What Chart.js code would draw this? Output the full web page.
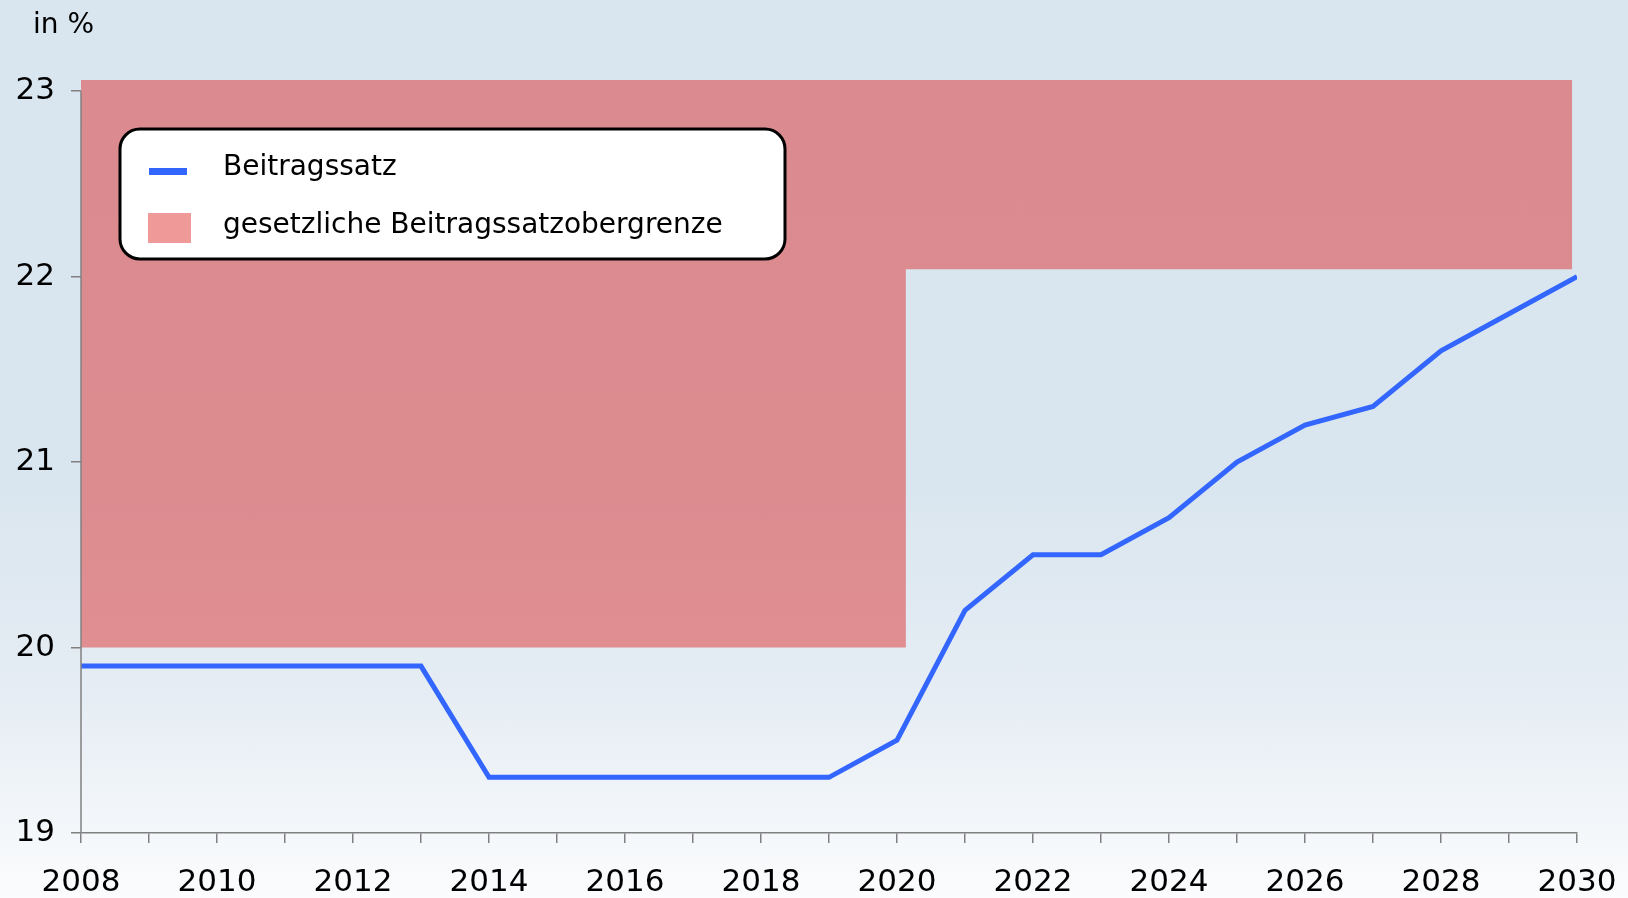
<!DOCTYPE html>
<html>
<head>
<meta charset="utf-8">
<script src="https://cdn.jsdelivr.net/npm/chart.js@4"></script>
<style>
  html, body { margin: 0; padding: 0; }
  body {
    width: 1628px; height: 898px; overflow: hidden;
    background: linear-gradient(to bottom, #d9e6ef 0%, #dae6ef 55%, #e6edf4 78%, #fbfcfd 100%);
  }
  #wrap { position: relative; width: 1628px; height: 898px; }
</style>
</head>
<body>
<div id="wrap"><canvas id="chart" width="1628" height="898"></canvas></div>
<script>
// Beitragssatz in %
const years = [2008, 2009, 2010, 2011, 2012, 2013, 2014, 2015, 2016, 2017, 2018, 2019,
               2020, 2021, 2022, 2023, 2024, 2025, 2026, 2027, 2028, 2029, 2030];
const rates = [19.9, 19.9, 19.9, 19.9, 19.9, 19.9, 19.3, 19.3, 19.3, 19.3, 19.3, 19.3,
               19.5, 20.2, 20.5, 20.5, 20.7, 21.0, 21.2, 21.3, 21.6, 21.8, 22.0];

// gesetzliche Obergrenze (Fläche von unterer Grenze bis capTop)
const capYears = [2008, 2020.13, 2020.13, 2029.93];
const capLow = [20, 20, 22.04, 22.04];
const capTop = 23.06;

const yTicks = [19, 20, 21, 22, 23];
const xMin = 2008, xMax = 2030;

const labels = ["Beitragssatz", "gesetzliche Beitragssatzobergrenze"];
const lineColor = "#3366ff";
const capFill = "rgba(221, 28, 26, 0.45)";
const capSwatch = "#f09999";
const font = "'DejaVu Sans', 'Liberation Sans', sans-serif";

const extras = {
    id: "extras",
    afterDraw(chart) {
        const ctx = chart.ctx;
        const y = chart.scales.y;
        ctx.save();
        // y axis line only up to the 23 tick
        ctx.strokeStyle = "#808080";
        ctx.lineWidth = 1.5;
        ctx.beginPath();
        ctx.moveTo(chart.chartArea.left, y.getPixelForValue(23));
        ctx.lineTo(chart.chartArea.left, y.getPixelForValue(19));
        ctx.stroke();

        ctx.fillStyle = "#000";
        ctx.font = "28px " + font;
        ctx.textBaseline = "alphabetic";
        ctx.fillText("in %", 33, 33);

        // legend box
        const bx = 120, by = 129, bw = 665, bh = 130, r = 20;
        ctx.beginPath();
        ctx.roundRect(bx, by, bw, bh, r);
        ctx.fillStyle = "#fff";
        ctx.fill();
        ctx.lineWidth = 3;
        ctx.strokeStyle = "#000";
        ctx.stroke();

        ctx.fillStyle = lineColor;
        ctx.fillRect(149, 168, 38, 7);
        ctx.fillStyle = capSwatch;
        ctx.fillRect(148, 213, 43, 30);

        ctx.fillStyle = "#000";
        ctx.font = "28px " + font;
        ctx.textBaseline = "middle";
        ctx.fillText(labels[0], 223, 168);
        ctx.fillText(labels[1], 223, 226);
        ctx.restore();
    }
};

new Chart(document.getElementById("chart"), {
    type: "line",
    data: {
        datasets: [{
            label: labels[0],
            data: years.map((x, i) => ({x: x, y: rates[i]})),
            borderColor: lineColor,
            borderWidth: 5,
            pointRadius: 0,
            tension: 0,
            fill: false
        }, {
            label: labels[1],
            data: capYears.map((x, i) => ({x: x, y: capLow[i]})),
            borderWidth: 0,
            borderColor: "rgba(0,0,0,0)",
            backgroundColor: capFill,
            pointRadius: 0,
            tension: 0,
            fill: {value: capTop}
        }]
    },
    options: {
        responsive: false,
        animation: false,
        devicePixelRatio: 1,
        layout: { padding: { top: 80, right: 51, left: 0, bottom: 0 } },
        plugins: { legend: { display: false }, tooltip: { enabled: false } },
        scales: {
            x: {
                type: "linear",
                min: xMin, max: xMax,
                afterFit: s => { s.height = 65; s.paddingLeft = 0; s.paddingRight = 0; },
                ticks: {
                    stepSize: 1,
                    autoSkip: false,
                    maxRotation: 0,
                    padding: 21,
                    color: "#000",
                    font: { family: font, size: 31 },
                    callback: v => (v % 2 === 0 ? String(v) : "")
                },
                grid: { drawOnChartArea: false, tickLength: 10, color: "#808080", lineWidth: 1.5 },
                border: { color: "#808080", width: 1.5 }
            },
            y: {
                min: 19, max: capTop,
                afterFit: s => { s.width = 81; s.paddingTop = 0; s.paddingBottom = 0; },
                afterBuildTicks: s => { s.ticks = yTicks.map(v => ({value: v})); },
                ticks: {
                    padding: 16,
                    color: "#000",
                    font: { family: font, size: 31 }
                },
                grid: { drawOnChartArea: false, tickLength: 10, color: "#808080", lineWidth: 1.5 },
                border: { display: false }
            }
        }
    },
    plugins: [extras]
});
</script>
</body>
</html>
